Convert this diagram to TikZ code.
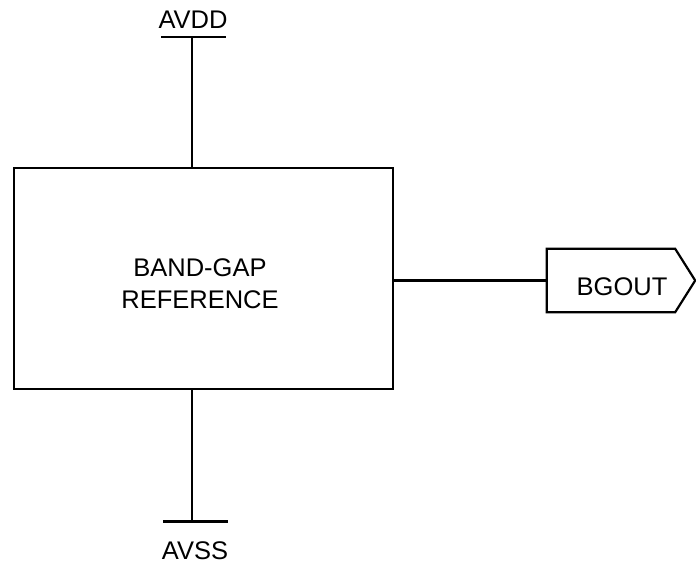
\documentclass[tikz,border=0pt]{standalone}
\usepackage{fontspec}
\setmainfont{Liberation Sans}
\begin{document}
\begin{tikzpicture}[x=1pt,y=-1pt,line join = miter,line cap = butt]
			\tikzset{
				wire/.style={black,line width=2.2pt},
				lbl/.style={font=\fontsize{25.5}{32}\selectfont,inner sep=0pt,align=center},
				bgr/.style={wire,draw,minimum width=379pt,minimum height=221pt,inner sep=0pt},
				portbody/.style={minimum width=128pt,minimum height=63pt,inner sep=0pt}
			}
			\useasboundingbox(0,0)rectangle(696,564);
			% block
			\node[bgr](bg)at(203.5,278.5){};
			\node[lbl](bgname)at(200,284){BAND-GAP\\REFERENCE};
			% supply rails
			\coordinate(vdd)at(192,37);
			\coordinate(vss)at(192,521.5);
			\draw[wire](bg.north-|vdd)--(vdd);
			\draw[wire]([xshift=-31pt]vdd)--([xshift=34pt]vdd);
			\draw[wire](bg.south-|vss)--(vss);
			\draw[wire]([xshift=-29pt]vss)--([xshift=36pt]vss);
			\node[lbl](avdd)at(193,19.5){AVDD};
			\node[lbl](avss)at(195,550.5){AVSS};
			% output port
			\node[portbody](bgout)at(611,280.5){};
			\node[lbl](bgtxt)at(622,286.5){BGOUT};
			\draw[wire](bgout.north west)--(bgout.north east)--([xshift=20pt]bgout.east)
				--(bgout.south east)--(bgout.south west)--cycle;
			\draw[wire](bg.east|-bgout.west)--(bgout.west);
		\end{tikzpicture}
\end{document}
